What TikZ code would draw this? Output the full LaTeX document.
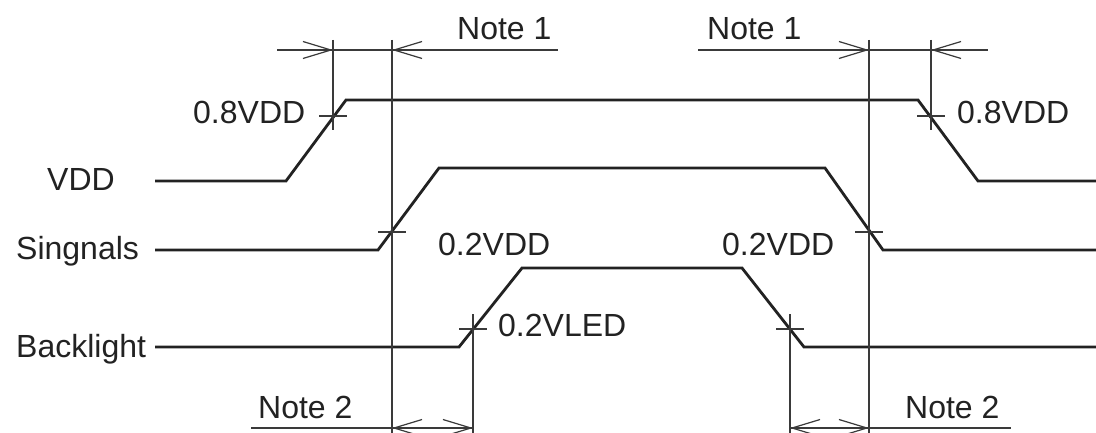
\documentclass[tikz,border=0pt]{standalone}
\usepackage{fontspec}
\setmainfont{Liberation Sans}
\usetikzlibrary{arrows.meta}
\definecolor{sig}{HTML}{222222}
\definecolor{dim}{HTML}{3A3A3A}
\begin{document}
\begin{tikzpicture}[x=1pt,y=-1pt,
  wave/.style={line width=2.8pt,color=sig,line join=miter},
  dimline/.style={line width=1.2pt,color=dim},
  barb/.style={dimline,-{Straight Barb[length=28pt,width=17pt,line width=1.2pt]}},
  lbl/.style={anchor=base west,inner sep=0pt,font=\fontsize{32}{38}\selectfont,text=sig}]
\useasboundingbox (0,0) rectangle (1096,433);
\fill[white] (0,0) rectangle (1096,433);
% key coordinates
\coordinate (vA) at (155,181);
\coordinate (vB) at (286,181);
\coordinate (vC) at (346,100);
\coordinate (vD) at (918,100);
\coordinate (vE) at (978,181);
\coordinate (vF) at (1096,181);
\coordinate (sA) at (155,250);
\coordinate (sB) at (378,250);
\coordinate (sC) at (439,168);
\coordinate (sD) at (825,168);
\coordinate (sE) at (883,250);
\coordinate (sF) at (1096,250);
\coordinate (bA) at (155,347);
\coordinate (bB) at (459,347);
\coordinate (bC) at (522,268);
\coordinate (bD) at (742,268);
\coordinate (bE) at (804,347);
\coordinate (bF) at (1096,347);
% waveforms
\draw[wave] (vA) -- (vB) -- (vC) -- (vD) -- (vE) -- (vF);
\draw[wave] (sA) -- (sB) -- (sC) -- (sD) -- (sE) -- (sF);
\draw[wave] (bA) -- (bB) -- (bC) -- (bD) -- (bE) -- (bF);
% crossing points
\coordinate (p1) at (333,116);
\coordinate (p2) at (931,116);
\coordinate (p3) at (392,232);
\coordinate (p4) at (869,232);
\coordinate (p5) at (473,329);
\coordinate (p6) at (790,329);
% extension lines
\draw[dimline] (333,40) -- (333,130);
\draw[dimline] (931,40) -- (931,130);
\draw[dimline] (392,40) -- (392,433);
\draw[dimline] (869,40) -- (869,433);
\draw[dimline] (473,314) -- (473,433);
\draw[dimline] (790,314) -- (790,433);
% horizontal ticks
\foreach \p in {p1,p2,p3,p4,p5,p6}
  \draw[dimline] ([xshift=-14pt]\p) -- ([xshift=14pt]\p);
% Note 1 dimension lines
\coordinate (n1a) at (277,50);
\coordinate (n1b) at (558,50);
\coordinate (n1c) at (698,50);
\coordinate (n1d) at (988,50);
\draw[dimline] (n1a) -- (n1b);
\draw[dimline] (n1c) -- (n1d);
\draw[barb] (295,50) -- (333,50);
\draw[barb] (430,50) -- (392,50);
\draw[barb] (831,50) -- (869,50);
\draw[barb] (969,50) -- (931,50);
% Note 2 dimension lines
\coordinate (n2a) at (251,428);
\coordinate (n2b) at (473,428);
\coordinate (n2c) at (790,428);
\coordinate (n2d) at (1011,428);
\draw[dimline] (n2a) -- (n2b);
\draw[dimline] (n2c) -- (n2d);
\draw[barb] (432,428) -- (392,428);
\draw[barb] (433,428) -- (473,428);
\draw[barb] (830,428) -- (790,428);
\draw[barb] (829,428) -- (869,428);
% labels
\node[lbl] (t1) at (457,39.5) {Note 1};
\node[lbl] (t2) at (707,39.5) {Note 1};
\node[lbl] (t3) at (193,124) {0.8VDD};
\node[lbl] (t4) at (957,124) {0.8VDD};
\node[lbl] (t5) at (47,191) {VDD};
\node[lbl] (t6) at (16,259) {Singnals};
\node[lbl] (t7) at (438,255) {0.2VDD};
\node[lbl] (t8) at (722,255) {0.2VDD};
\node[lbl] (t9) at (16,357) {Backlight};
\node[lbl] (t10) at (498,336) {0.2VLED};
\node[lbl] (t11) at (258,418) {Note 2};
\node[lbl] (t12) at (905,418) {Note 2};
\end{tikzpicture}
\end{document}
